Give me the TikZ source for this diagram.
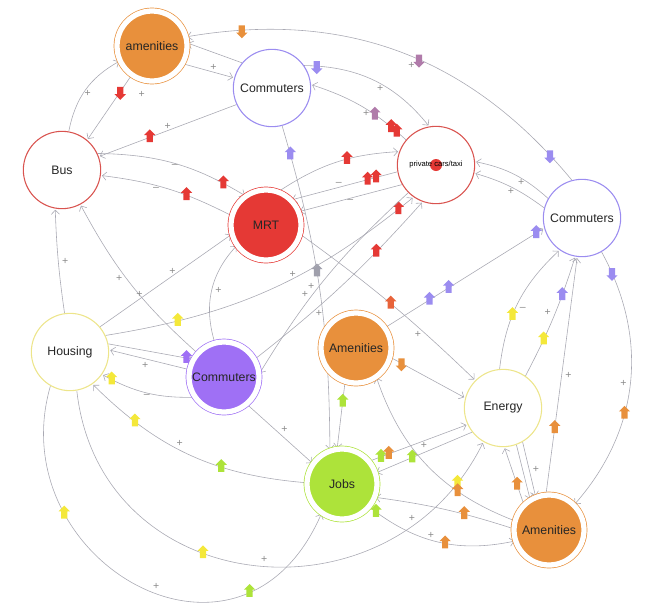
\documentclass[tikz,border=0pt]{standalone}
\usepackage{fontspec}
\setmainfont{Liberation Sans}
\usetikzlibrary{arrows.meta,shapes.arrows,backgrounds}
\definecolor{amber}{HTML}{E8903C}
\definecolor{redfill}{HTML}{E53935}
\definecolor{redring}{HTML}{D9534F}
\definecolor{purpfill}{HTML}{9F70F5}
\definecolor{purpring}{HTML}{9B8CF0}
\definecolor{lime}{HTML}{ADE33A}
\definecolor{yelring}{HTML}{EDE58A}
\definecolor{yelmark}{HTML}{F4E83A}
\definecolor{mauve}{HTML}{B07BAA}
\definecolor{orred}{HTML}{E8633A}
\definecolor{graymark}{HTML}{A0A0AC}
\definecolor{linegray}{HTML}{A9A9B3}
\definecolor{signgray}{HTML}{8A8A8A}
\tikzset{
  hollow/.style={circle, draw=#1, line width=0.9pt, fill=white, minimum size=2.32cm,
    inner sep=0pt, text=black!85, font=\fontsize{10.5}{12}\selectfont},
  filled/.style={circle, draw=#1, fill=#1, double=white, double distance=4.5pt,
    line width=0.6pt, minimum size=2.1cm, inner sep=0pt, text=black!85,
    font=\fontsize{10.5}{12}\selectfont},
  link/.style={->, draw=linegray, line width=0.5pt, shorten >=1pt},
  mk/.style={single arrow, fill=#1, draw=none, minimum height=11pt, minimum width=0pt,
    single arrow head extend=2.2pt, inner sep=2.4pt, shape border rotate=90},
  mku/.style={mk=#1},
  mkd/.style={mk=#1, shape border rotate=270},
  sgn/.style={text=signgray, font=\fontsize{9}{10}\selectfont, inner sep=1pt},
  >={Straight Barb[length=3.5pt,width=7pt]},
}

\begin{document}
\begin{tikzpicture}[x=0.03cm, y=-0.03cm]
  \useasboundingbox (0,0) rectangle (656,612);
  % factors
  \node[filled=amber]    (amA)  at (152,46)  {amenities};
  \node[hollow=purpring] (cmA)  at (272,88)  {Commuters};
  \node[hollow=redring]  (bus)  at (62,170)  {Bus};
  \node[hollow=redring]  (car)  at (436,165) {};
  \node[circle, fill=redfill, minimum size=0.36cm, inner sep=0pt] (cardot) at (car) {};
  \node[font=\fontsize{6.5}{7}\selectfont] (carlbl) at (car) {private cars/taxi};
  \node[filled=redfill]  (mrt)  at (266,225) {MRT};
  \node[hollow=purpring] (cmB)  at (582,218) {Commuters};
  \node[hollow=yelring]  (hs)   at (70,352)  {Housing};
  \node[filled=purpfill] (cmC)  at (224,377) {Commuters};
  \node[filled=amber]    (amB)  at (356,348) {Amenities};
  \node[hollow=yelring]  (en)   at (503,408) {Energy};
  \node[filled=lime]     (jobs) at (342,484) {Jobs};
  \node[filled=amber]    (amC)  at (549,530) {Amenities};

  \begin{scope}[on background layer]
    % top part
    \draw[link] (cmB.105) to[bend right=30]
      node[pos=.07, mkd=purpring] {} node[pos=.45, mkd=mauve] {}
      node[pos=.47, sgn, below=4pt] {+} node[pos=.88, mkd=amber] {} (amA.15);
    \draw[link] (cmA.140) to (amA.5);
    \draw[link] (amA.-30) to node[pos=.6, sgn, above] {+} (cmA.165);
    \draw[link] (bus.80) to[bend left=25] node[pos=.45, sgn, right] {+} (amA.205);
    \draw[link] (amA.235) to node[pos=.26, mkd=redfill] {}
      node[pos=.3, sgn, right=16pt] {+} (bus.50);
    \draw[link] (cmA.205) to node[pos=.5, sgn, above] {+}
      node[pos=.63, mku=redfill] {} (bus.20);
    \draw[link] (bus.25) to[bend left=15] node[pos=.5, sgn, below] {--}
      node[pos=.85, mku=redfill] {} (mrt.125);
    \draw[link] (mrt.165) to[bend right=10] node[pos=.35, mku=redfill] {}
      node[pos=.6, sgn, below] {--} (bus.-8);
    \draw[link] (cmA.35) to[bend left=25] node[pos=.08, mkd=purpring] {}
      node[pos=.55, sgn, below] {+} (car.100);
    \draw[link] (car.140) to[bend right=12] node[pos=.1, mku=redfill] {}
      node[pos=.16, mku=redfill] {} node[pos=.35, mku=mauve] {}
      node[pos=.45, sgn, below] {+} (cmA.5);
    \draw[link] (mrt.70) to[bend left=15] node[pos=.6, mku=redfill] {} (car.160);
    \draw[link] (car.190) to node[pos=.2, mku=redfill] {} node[pos=.28, mku=redfill] {}
      node[pos=.55, sgn, above] {--} (mrt.45);
    \draw[link] (car.210) to node[pos=.5, sgn, below] {--} (mrt.22);
    % middle part
    \draw[link] (mrt.-15) to[bend left=4] node[pos=.5, mku=orred] {}
      node[pos=.72, sgn, left=3pt] {+} (en.135);
    \draw[link] (cmA.-75) to[bend left=8] node[pos=.08, mku=purpring] {}
      node[pos=.45, mku=graymark] {} node[pos=.5, sgn, left=3pt] {+} (jobs.110);
    \draw[link] (hs.25) to[bend right=15] node[pos=.2, mk=yelmark] {}
      node[pos=.58, sgn, above] {+} node[pos=.95, mku=redfill] {} (car.235);
    \draw[link] (cmC.30) to[bend right=5] node[pos=.72, mku=redfill] {}
      node[pos=.3, sgn, right=3pt] {+} (car.250);
    \draw[link] (car.225) to[bend right=8] node[pos=.6, sgn, left=3pt] {+} (cmC.5);
    \draw[link] (amB.35) to node[pos=.28, mku=purpring] {} node[pos=.4, mku=purpring] {}
      node[pos=.95, mku=purpring] {} (cmB.195);
    \draw[link] (cmB.150) to[bend right=15] node[pos=.4, sgn, below] {+} (car.5);
    \draw[link] (cmB.165) to[bend right=10] node[pos=.5, sgn, below] {+} (car.-12);
    \draw[link] (cmB.-60) to[bend left=35] node[pos=.08, mkd=purpring] {}
      node[pos=.5, sgn, left=2pt] {+} node[pos=.62, mku=amber] {} (amC.45);
    \draw[link] (en.95) to[bend left=20] node[pos=.4, mk=yelmark] {}
      node[pos=.45, sgn, right=3pt] {--} (cmB.-125);
    \draw[link] (en.55) to[bend right=5] node[pos=.3, mk=yelmark] {}
      node[pos=.55, sgn, left=3pt] {+} node[pos=.7, mku=purpring] {} (cmB.-100);
    \draw[link] (amC.95) to node[pos=.28, mku=amber] {}
      node[pos=.5, sgn, right=2pt] {+} (cmB.-97);
    % lower part
    \draw[link] (en.-60) to node[pos=.5, sgn, right=2pt] {+} (amC.112);
    \draw[link] (en.-70) to (amC.122);
    \draw[link] (amC.135) to node[pos=.35, mku=amber] {} (en.-88);
    \draw[link] (jobs.40) to node[pos=.12, mk=lime] {} node[pos=.2, mku=amber] {} (en.205);
    \draw[link] (en.218) to node[pos=.5, sgn, above=2pt] {+}
      node[pos=.62, mk=lime] {} (jobs.18);
    \draw[link] (amB.-15) to node[pos=.15, mkd=amber] {} (en.165);
    \draw[link] (hs.-80) .. controls (100,600) and (390,630) ..
      node[pos=.4, mk=yelmark] {} node[pos=.52, sgn, above=2pt] {+}
      node[pos=.82, sgn, above left] {+} node[pos=.92, mk=yelmark] {} (en.-120);
    \draw[link] (hs.-120) .. controls (0,560) and (240,700) ..
      node[pos=.27, mk=yelmark] {} node[pos=.55, sgn, above=2pt] {+}
      node[pos=.78, mku=lime] {} (jobs.-125);
    \draw[link] (jobs.178) to[bend left=20] node[pos=.35, mk=lime] {}
      node[pos=.55, sgn, above=2pt] {+} node[pos=.78, mk=yelmark] {} (hs.-55);
    \draw[link] (cmC.215) to[bend left=15] node[pos=.5, sgn, below] {--}
      node[pos=.9, mk=yelmark] {} (hs.-35);
    \draw[link] (cmC.168) to node[pos=.55, sgn, below=2pt] {+} (hs.3);
    \draw[link] (hs.12) to node[pos=.92, mku=purpfill] {} (cmC.150);
    \draw[link] (cmC.138) to[bend left=10] node[pos=.55, sgn, left=2pt] {+} (bus.-62);
    \draw[link] (hs.98) to[bend left=3] node[pos=.5, sgn, right=2pt] {+} (bus.-100);
    \draw[link] (hs.40) to node[pos=.3, sgn, above] {+}
      node[pos=.55, sgn, above] {+} (mrt.195);
    \draw[link] (cmC.105) to[bend left=30] node[pos=.5, sgn, right=2pt] {+} (mrt.215);
    \draw[link] (cmC.-50) to node[pos=.5, sgn, above right] {+} (jobs.145);
    \draw[link] (amB.-108) to node[pos=.3, mku=lime] {} (jobs.98);
    \draw[link] (amC.165) to[bend left=25] node[pos=.3, mku=amber] {} (amB.-55);
    \draw[link] (amC.178) to[bend right=5] node[pos=.35, mku=amber] {} (jobs.-22);
    \draw[link] (jobs.-40) to[bend right=25] node[pos=.05, mk=lime] {}
      node[pos=.45, sgn, above] {+} node[pos=.55, mku=amber] {} (amC.198);
  \end{scope}
\end{tikzpicture}
\end{document}
